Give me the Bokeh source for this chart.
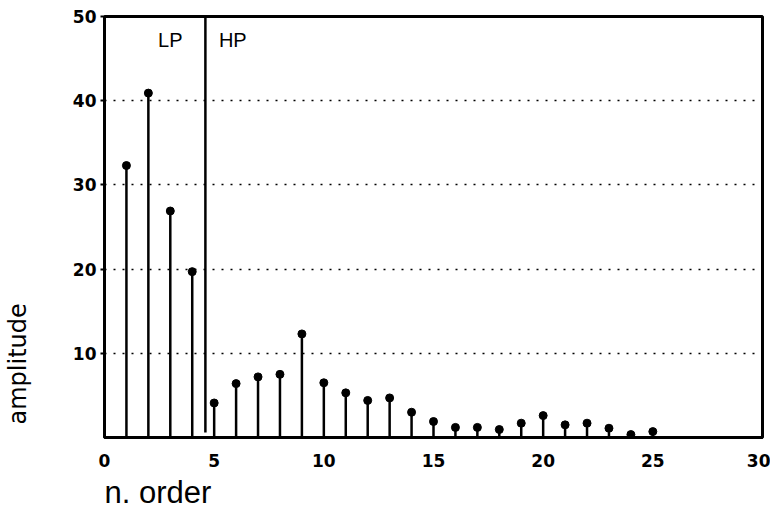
from bokeh.plotting import figure
from bokeh.models import ColumnDataSource, Label, FixedTicker, Title, LinearAxis
from bokeh.embed import file_html
from bokeh.resources import INLINE

# data
orders = list(range(1, 26))
amplitudes = [32.3, 40.9, 26.9, 19.7, 4.1, 6.4, 7.2, 7.5, 12.3, 6.5, 5.3, 4.4, 4.7,
              3.0, 1.9, 1.2, 1.2, 0.95, 1.7, 2.6, 1.5, 1.7, 1.1, 0.35, 0.7]
x_ticks = [0, 5, 10, 15, 20, 25, 30]
y_ticks = [10, 20, 30, 40, 50]
boundary = 4.6
boundary_bottom = 0.6

src = ColumnDataSource(dict(x=orders, y=amplitudes, y0=[0] * len(orders)))

p = figure(width=770, height=512, output_backend="svg", toolbar_location=None,
           x_range=(0, 30), y_range=(0, 50),
           min_border_left=104, min_border_right=8, min_border_top=16, min_border_bottom=74)

p.segment(x0="x", y0="y0", x1="x", y1="y", source=src, line_color="black", line_width=2.5)
p.scatter(x="x", y="y", source=src, size=8, color="black")
p.segment(x0=[boundary], y0=[boundary_bottom], x1=[boundary], y1=[50], line_color="black", line_width=2.5)

p.outline_line_color = "black"
p.outline_line_width = 3
p.outline_line_alpha = 1

p.xgrid.grid_line_color = None
p.ygrid.grid_line_color = "black"
p.ygrid.grid_line_dash = "2 7"
p.ygrid.grid_line_width = 1.5

p.xaxis.ticker = FixedTicker(ticks=x_ticks)
p.yaxis.ticker = FixedTicker(ticks=y_ticks)
for ax in (p.xaxis, p.yaxis):
    ax.axis_line_width = 3
    ax.axis_line_color = "black"
    ax.major_label_text_font = "DejaVu Sans"
    ax.major_label_text_font_style = "bold"
    ax.major_label_text_font_size = "17px"
    ax.major_label_text_color = "black"
    ax.minor_tick_line_color = None
p.xaxis.major_tick_line_color = None
p.xaxis.major_label_standoff = 10
p.yaxis.major_tick_in = 0
p.yaxis.major_tick_out = 4
p.yaxis.major_tick_line_width = 2
p.yaxis.major_label_standoff = 4

# invisible spacer between the y axis and its title
spacer = LinearAxis(ticker=FixedTicker(ticks=[25]), major_tick_out=36, major_tick_in=0,
                    major_tick_line_color=None, minor_tick_line_color=None,
                    minor_tick_out=0, axis_line_color=None,
                    major_label_overrides={25: ""}, major_label_standoff=0)
p.add_layout(spacer, "left")

p.add_layout(Title(text="amplitude", align="left", offset=13, text_font="DejaVu Sans",
                   text_font_size="24px", text_font_style="normal", text_color="black",
                   vertical_align="top", standoff=0), "left")

p.add_layout(Title(text="n. order", align="left", text_font="Liberation Sans",
                   text_font_size="31px", text_font_style="normal", text_color="black",
                   standoff=6), "below")

p.add_layout(Label(x=3.0, y=47.2, text="LP", text_font="Liberation Sans", text_font_size="20px",
                   text_align="center", text_baseline="middle", text_color="black"))
p.add_layout(Label(x=5.85, y=47.2, text="HP", text_font="Liberation Sans", text_font_size="20px",
                   text_align="center", text_baseline="middle", text_color="black"))

open("out.html", "w").write(file_html(p, INLINE))
